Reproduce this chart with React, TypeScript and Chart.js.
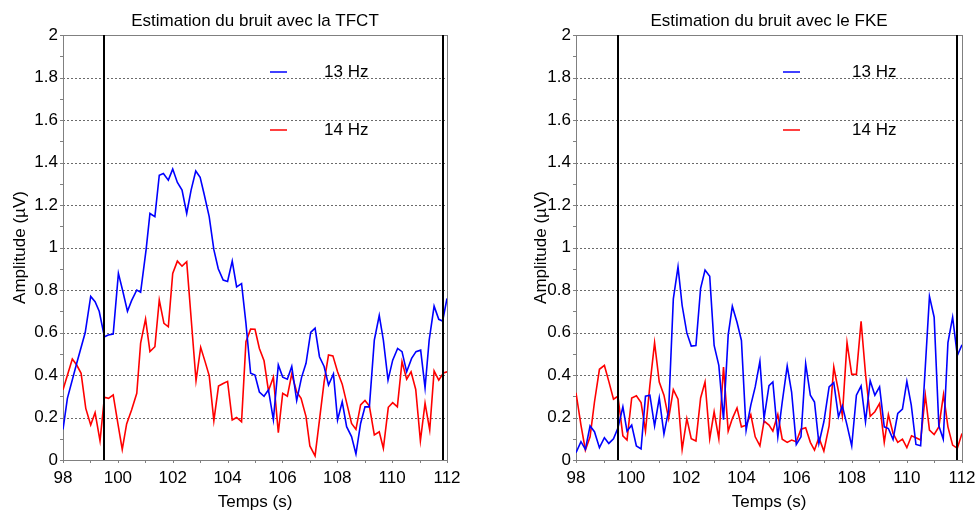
import React, { useEffect, useRef } from "react";
import { Chart, registerables } from "chart.js";

Chart.register(...registerables);

// ---------- data (time in s, amplitude in µV) ----------
const tfct13: number[][] = [
  [98.0, 0.144], [98.16, 0.29], [98.5, 0.455], [98.81, 0.6], [99.01, 0.77], [99.17, 0.745], [99.32, 0.7],
  [99.51, 0.58], [99.65, 0.588], [99.83, 0.593], [100.02, 0.878], [100.17, 0.8], [100.35, 0.7], [100.5, 0.75],
  [100.69, 0.8], [100.83, 0.79], [101.03, 0.99], [101.17, 1.16], [101.35, 1.145], [101.51, 1.34], [101.66, 1.348],
  [101.84, 1.317], [102.0, 1.369], [102.17, 1.306], [102.34, 1.27], [102.51, 1.16], [102.67, 1.27], [102.84, 1.36],
  [103.0, 1.33], [103.14, 1.254], [103.33, 1.145], [103.5, 0.99], [103.66, 0.9], [103.84, 0.847], [104.0, 0.84],
  [104.17, 0.936], [104.33, 0.815], [104.51, 0.83], [104.67, 0.643], [104.84, 0.408], [105.0, 0.4], [105.16, 0.32],
  [105.33, 0.3], [105.49, 0.33], [105.67, 0.19], [105.85, 0.447], [106.01, 0.39], [106.18, 0.38], [106.34, 0.44],
  [106.52, 0.28], [106.7, 0.39], [106.86, 0.455], [107.03, 0.6], [107.19, 0.62], [107.35, 0.486], [107.52, 0.44],
  [107.68, 0.353], [107.86, 0.405], [108.01, 0.188], [108.18, 0.274], [108.34, 0.157], [108.52, 0.11], [108.68, 0.028],
  [108.85, 0.172], [109.01, 0.25], [109.17, 0.25], [109.35, 0.564], [109.53, 0.68], [109.68, 0.564], [109.85, 0.376],
  [110.02, 0.47], [110.2, 0.525], [110.36, 0.51], [110.53, 0.415], [110.71, 0.478], [110.87, 0.51], [111.04, 0.517],
  [111.2, 0.34], [111.35, 0.564], [111.53, 0.724], [111.7, 0.662], [111.84, 0.654], [112.0, 0.76],
];

const tfct14: number[][] = [
  [98.0, 0.33], [98.34, 0.475], [98.5, 0.447], [98.66, 0.408], [98.83, 0.243], [99.01, 0.165], [99.17, 0.223],
  [99.35, 0.09], [99.51, 0.295], [99.66, 0.29], [99.83, 0.306], [100.0, 0.172], [100.16, 0.05], [100.32, 0.17],
  [100.5, 0.235], [100.69, 0.314], [100.83, 0.55], [101.01, 0.663], [101.17, 0.51], [101.35, 0.533], [101.51, 0.753],
  [101.68, 0.643], [101.84, 0.627], [102.0, 0.878], [102.17, 0.936], [102.34, 0.912], [102.51, 0.933], [102.85, 0.373],
  [103.02, 0.53], [103.18, 0.463], [103.33, 0.397], [103.5, 0.185], [103.67, 0.348], [103.84, 0.36], [104.0, 0.37],
  [104.17, 0.188], [104.33, 0.2], [104.51, 0.18], [104.67, 0.557], [104.84, 0.616], [105.0, 0.615], [105.16, 0.525],
  [105.33, 0.467], [105.49, 0.326], [105.67, 0.39], [105.85, 0.129], [106.01, 0.314], [106.18, 0.3], [106.34, 0.405],
  [106.52, 0.32], [106.68, 0.29], [106.86, 0.204], [107.0, 0.066], [107.19, 0.019], [107.35, 0.188], [107.52, 0.368],
  [107.68, 0.494], [107.84, 0.49], [108.01, 0.415], [108.18, 0.357], [108.34, 0.27], [108.52, 0.172], [108.68, 0.144],
  [108.85, 0.259], [109.01, 0.28], [109.17, 0.254], [109.35, 0.118], [109.53, 0.133], [109.68, 0.055], [109.86, 0.248],
  [110.02, 0.27], [110.19, 0.25], [110.36, 0.463], [110.53, 0.38], [110.69, 0.415], [110.86, 0.332], [111.03, 0.09],
  [111.2, 0.267], [111.37, 0.141], [111.53, 0.419], [111.7, 0.376], [111.87, 0.41], [112.0, 0.415],
];

const fke13: number[][] = [
  [98.0, 0.034], [98.18, 0.086], [98.34, 0.05], [98.51, 0.16], [98.67, 0.133], [98.85, 0.058], [99.03, 0.105],
  [99.19, 0.078], [99.36, 0.1], [99.52, 0.15], [99.7, 0.25], [99.85, 0.136], [100.02, 0.164], [100.19, 0.066],
  [100.36, 0.052], [100.52, 0.3], [100.68, 0.305], [100.85, 0.16], [101.02, 0.292], [101.19, 0.122], [101.36, 0.234],
  [101.53, 0.758], [101.7, 0.909], [101.85, 0.727], [102.02, 0.598], [102.18, 0.536], [102.35, 0.539], [102.52, 0.808],
  [102.68, 0.894], [102.85, 0.864], [103.01, 0.539], [103.18, 0.445], [103.35, 0.19], [103.52, 0.589], [103.67, 0.723],
  [103.84, 0.648], [104.0, 0.5625], [104.17, 0.14], [104.34, 0.258], [104.5, 0.344], [104.67, 0.464], [104.82, 0.195],
  [105.0, 0.35], [105.14, 0.367], [105.32, 0.109], [105.48, 0.273], [105.66, 0.442], [105.82, 0.32], [105.99, 0.073],
  [106.16, 0.109], [106.33, 0.453], [106.5, 0.305], [106.65, 0.273], [106.81, 0.078], [106.99, 0.18], [107.18, 0.344],
  [107.35, 0.364], [107.52, 0.203], [107.66, 0.255], [107.83, 0.164], [108.0, 0.066], [108.17, 0.305], [108.34, 0.348],
  [108.5, 0.18], [108.67, 0.373], [108.84, 0.305], [109.01, 0.344], [109.18, 0.156], [109.33, 0.148], [109.5, 0.097],
  [109.67, 0.219], [109.84, 0.239], [110.0, 0.37], [110.16, 0.258], [110.33, 0.073], [110.5, 0.067], [110.82, 0.77],
  [110.99, 0.672], [111.16, 0.161], [111.32, 0.098], [111.49, 0.552], [111.66, 0.672], [111.83, 0.492], [112.0, 0.542],
];

const fke14: number[][] = [
  [98.0, 0.316], [98.18, 0.164], [98.34, 0.047], [98.51, 0.109], [98.67, 0.273], [98.85, 0.427], [99.03, 0.445],
  [99.19, 0.37], [99.36, 0.286], [99.52, 0.3], [99.7, 0.114], [99.85, 0.094], [100.02, 0.292], [100.19, 0.302],
  [100.36, 0.27], [100.52, 0.136], [100.68, 0.352], [100.85, 0.552], [101.02, 0.367], [101.19, 0.305], [101.36, 0.195],
  [101.53, 0.331], [101.7, 0.286], [101.85, 0.05], [102.02, 0.195], [102.18, 0.1], [102.35, 0.089], [102.52, 0.292],
  [102.68, 0.367], [102.85, 0.1], [103.01, 0.227], [103.18, 0.1], [103.35, 0.4375], [103.52, 0.136], [103.67, 0.195],
  [103.84, 0.245], [104.0, 0.156], [104.17, 0.164], [104.34, 0.214], [104.5, 0.109], [104.67, 0.067], [104.82, 0.183],
  [105.0, 0.164], [105.14, 0.136], [105.32, 0.214], [105.48, 0.098], [105.66, 0.083], [105.82, 0.094], [105.99, 0.086],
  [106.16, 0.145], [106.33, 0.152], [106.5, 0.083], [106.65, 0.047], [106.81, 0.105], [106.99, 0.042], [107.18, 0.161],
  [107.35, 0.4375], [107.52, 0.323], [107.66, 0.208], [107.83, 0.552], [108.0, 0.403], [108.17, 0.403], [108.34, 0.653],
  [108.5, 0.406], [108.67, 0.206], [108.84, 0.227], [109.01, 0.266], [109.18, 0.083], [109.33, 0.214], [109.5, 0.125],
  [109.67, 0.083], [109.84, 0.098], [110.0, 0.058], [110.17, 0.114], [110.33, 0.105], [110.5, 0.094], [110.67, 0.305],
  [110.82, 0.141], [110.99, 0.12], [111.16, 0.156], [111.33, 0.308], [111.49, 0.156], [111.66, 0.07], [111.83, 0.055],
  [112.0, 0.125],
];

const xTicks = [98, 100, 102, 104, 106, 108, 110, 112];
const yTicks = [0, 0.2, 0.4, 0.6, 0.8, 1, 1.2, 1.4, 1.6, 1.8, 2];
const yTickLabels = ["0", "0.2", "0.4", "0.6", "0.8", "1", "1.2", "1.4", "1.6", "1.8", "2"];
const seriesNames = ["13 Hz", "14 Hz"];
const titles = ["Estimation du bruit avec la TFCT", "Estimation du bruit avec le FKE"];
const markersLeft = [99.5, 111.85];
const markersRight = [99.52, 111.83];
const xTitle = "Temps (s)";
const yTitle = "Amplitude (µV)";

const FONT = "17px 'Liberation Sans', Arial, sans-serif";

type PanelCfg = {
  title: string;
  markers: number[];
  yTitleX: number;
  legendLineX: number;
  legendTextX: number;
};

function makePlugin(cfg: PanelCfg) {
  return {
    id: "panelDecor",
    beforeDatasetsDraw(chart: any) {
      const { ctx, chartArea: a, scales } = chart;
      const xs = scales.x, ys = scales.y;
      ctx.save();
      // dashed grid
      ctx.strokeStyle = "#6a6a6a";
      ctx.lineWidth = 1;
      ctx.setLineDash([2, 2]);
      yTicks.forEach((v) => {
        if (v <= 0 || v >= 2) return;
        const y = Math.round(ys.getPixelForValue(v)) + 0.5;
        ctx.beginPath();
        ctx.moveTo(a.left, y);
        ctx.lineTo(a.right, y);
        ctx.stroke();
      });
      ctx.setLineDash([]);
      // frame
      ctx.strokeStyle = "#808080";
      ctx.strokeRect(Math.round(a.left) + 0.5, Math.round(a.top) + 0.5, Math.round(a.right - a.left), Math.round(a.bottom - a.top));
      // tick marks
      for (let t = 98; t <= 112; t++) {
        const x = Math.round(xs.getPixelForValue(t)) + 0.5;
        ctx.beginPath();
        ctx.moveTo(x, a.bottom);
        ctx.lineTo(x, a.bottom + 3);
        ctx.stroke();
      }
      for (let i = 0; i <= 20; i++) {
        const y = Math.round(ys.getPixelForValue(i / 10)) + 0.5;
        ctx.beginPath();
        ctx.moveTo(a.left - 3, y);
        ctx.lineTo(a.left, y);
        ctx.stroke();
      }
      // labels
      ctx.fillStyle = "#000";
      ctx.font = FONT;
      ctx.textAlign = "center";
      ctx.textBaseline = "alphabetic";
      xTicks.forEach((t) => {
        ctx.fillText(String(t), xs.getPixelForValue(t), a.bottom + 23);
      });
      ctx.textAlign = "right";
      ctx.textBaseline = "middle";
      yTicks.forEach((v, i) => {
        ctx.fillText(yTickLabels[i], a.left - 5, ys.getPixelForValue(v));
      });
      ctx.textAlign = "center";
      ctx.textBaseline = "alphabetic";
      ctx.fillText(cfg.title, (a.left + a.right) / 2, 26);
      ctx.fillText(xTitle, (a.left + a.right) / 2, a.bottom + 47);
      ctx.save();
      ctx.translate(cfg.yTitleX, (a.top + a.bottom) / 2);
      ctx.rotate(-Math.PI / 2);
      ctx.textBaseline = "middle";
      ctx.fillText(yTitle, 0, 0);
      ctx.restore();
      ctx.restore();
    },
    afterDatasetsDraw(chart: any) {
      const { ctx, chartArea: a, scales } = chart;
      ctx.save();
      ctx.strokeStyle = "#000";
      ctx.lineWidth = 2;
      cfg.markers.forEach((t) => {
        const x = Math.round(scales.x.getPixelForValue(t));
        ctx.beginPath();
        ctx.moveTo(x, a.top);
        ctx.lineTo(x, a.bottom);
        ctx.stroke();
      });
      // legend
      const colors = ["#0000ff", "#ff0000"];
      const ly = [72, 130];
      ctx.font = FONT;
      ctx.textAlign = "left";
      ctx.textBaseline = "middle";
      seriesNames.forEach((n, i) => {
        ctx.strokeStyle = colors[i];
        ctx.lineWidth = 1.5;
        ctx.beginPath();
        ctx.moveTo(cfg.legendLineX, ly[i]);
        ctx.lineTo(cfg.legendLineX + 17, ly[i]);
        ctx.stroke();
        ctx.fillStyle = "#000";
        ctx.fillText(n, cfg.legendTextX, ly[i]);
      });
      ctx.restore();
    },
  };
}

function Panel(props: { s13: number[][]; s14: number[][]; cfg: PanelCfg; padL: number; padR: number }) {
  const ref = useRef<HTMLCanvasElement>(null);
  useEffect(() => {
    if (!ref.current) return;
    const toPts = (s: number[][]) => s.map((p) => ({ x: p[0], y: p[1] }));
    const chart = new Chart(ref.current, {
      type: "line",
      data: {
        datasets: [
          { label: seriesNames[0], data: toPts(props.s13), borderColor: "#0000ff", borderWidth: 1.6, pointRadius: 0, tension: 0, fill: false },
          { label: seriesNames[1], data: toPts(props.s14), borderColor: "#ff0000", borderWidth: 1.6, pointRadius: 0, tension: 0, fill: false },
        ],
      },
      options: {
        responsive: false,
        animation: false,
        devicePixelRatio: 1,
        layout: { padding: { left: props.padL, right: props.padR, top: 35, bottom: 56 } },
        scales: {
          x: { type: "linear", min: 98, max: 112, display: false },
          y: { type: "linear", min: 0, max: 2, display: false },
        },
        plugins: { legend: { display: false }, tooltip: { enabled: false } },
        events: [],
      },
      plugins: [makePlugin(props.cfg)],
    } as any);
    return () => chart.destroy();
  }, []);
  return <canvas ref={ref} width={490} height={516} style={{ width: 490, height: 516, display: "block" }} />;
}

export default function App() {
  return (
    <div style={{ position: "fixed", left: 0, top: 0, width: 980, height: 516, background: "#fff", display: "flex" }}>
      <Panel
        s13={tfct13}
        s14={tfct14}
        padL={63}
        padR={43}
        cfg={{ title: titles[0], markers: markersLeft, yTitleX: 20, legendLineX: 270, legendTextX: 324 }}
      />
      <Panel
        s13={fke13}
        s14={fke14}
        padL={86}
        padR={18}
        cfg={{ title: titles[1], markers: markersRight, yTitleX: 51, legendLineX: 293, legendTextX: 362 }}
      />
    </div>
  );
}
